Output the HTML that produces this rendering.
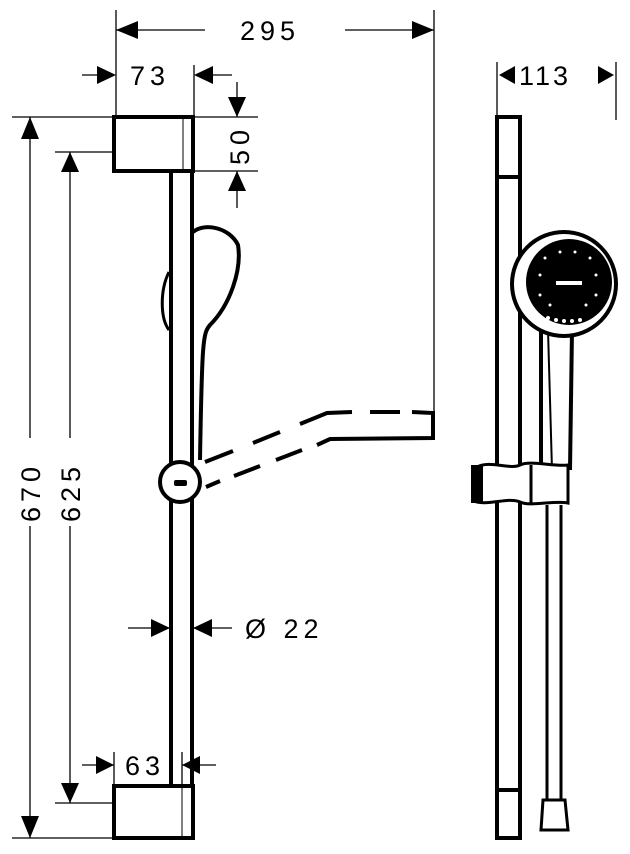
<!DOCTYPE html>
<html><head><style>
html,body{margin:0;padding:0;background:#fff;width:630px;height:854px;overflow:hidden}
svg{display:block}
text{font-family:"Liberation Sans",sans-serif;font-size:27px;fill:#000;letter-spacing:5px}
</style></head><body>
<svg width="630" height="854" viewBox="0 0 630 854" xmlns="http://www.w3.org/2000/svg">
<g stroke="#000" fill="none" stroke-width="1.3">
 <line x1="116" y1="10" x2="116" y2="117"/>
 <line x1="434" y1="10" x2="434" y2="412"/>
 <line x1="116" y1="30" x2="205" y2="30"/>
 <line x1="345" y1="30" x2="434" y2="30"/>
 <line x1="194" y1="65" x2="194" y2="117"/>
 <line x1="82" y1="75" x2="114" y2="75"/>
 <line x1="196" y1="75" x2="232" y2="75"/>
 <line x1="193" y1="117" x2="258" y2="117"/>
 <line x1="193" y1="171" x2="258" y2="171"/>
 <line x1="237" y1="82" x2="237" y2="117"/>
 <line x1="237" y1="171" x2="237" y2="208"/>
 <line x1="12" y1="117" x2="114" y2="117"/>
 <line x1="12" y1="838" x2="114" y2="838"/>
 <line x1="30" y1="117" x2="30" y2="838"/>
 <line x1="55" y1="152" x2="114" y2="152"/>
 <line x1="55" y1="803" x2="114" y2="803"/>
 <line x1="70" y1="152" x2="70" y2="803"/>
 <line x1="128" y1="628" x2="170" y2="628"/>
 <line x1="193" y1="628" x2="232" y2="628"/>
 <line x1="114" y1="752" x2="114" y2="786"/>
 <line x1="182" y1="752" x2="182" y2="786"/>
 <line x1="82" y1="765" x2="114" y2="765"/>
 <line x1="182" y1="765" x2="216" y2="765"/>
 <line x1="497" y1="62" x2="497" y2="117"/>
 <line x1="616" y1="62" x2="616" y2="120"/>
</g>
<g fill="#000">
 <polygon points="116,30 138,21 138,39"/>
 <polygon points="434,30 412,21 412,39"/>
 <polygon points="116,75 97,66 97,84"/>
 <polygon points="194,75 213,66 213,84"/>
 <polygon points="237,117 228,97 246,97"/>
 <polygon points="237,171 228,191 246,191"/>
 <polygon points="30,117 21,139 39,139"/>
 <polygon points="30,838 21,816 39,816"/>
 <polygon points="70,152 61,172 79,172"/>
 <polygon points="70,803 61,783 79,783"/>
 <polygon points="170,628 151,619 151,637"/>
 <polygon points="193,628 212,619 212,637"/>
 <polygon points="114,765 96,756 96,774"/>
 <polygon points="182,765 200,756 200,774"/>
 <polygon points="499,75 515,66 515,84"/>
 <polygon points="614,75 598,66 598,84"/>
</g>
<text x="240" y="40">295</text>
<text x="130" y="85">73</text>
<text x="125" y="775">63</text>
<text x="519" y="85" style="letter-spacing:3px">113</text>
<text x="245" y="638">Ø 22</text>
<text transform="translate(249,165) rotate(-90)">50</text>
<g transform="translate(40,522) rotate(-90)"><rect x="-4" y="-25" width="88" height="32" fill="#fff"/><text x="0" y="0">670</text></g>
<g transform="translate(80,522) rotate(-90)"><rect x="-4" y="-25" width="88" height="32" fill="#fff"/><text x="0" y="0">625</text></g>

<g stroke="#000" fill="none" stroke-width="4">
 <rect x="114" y="117" width="79" height="54" fill="#fff"/>
 <line x1="171" y1="171" x2="171" y2="786"/>
 <line x1="192" y1="171" x2="192" y2="786"/>
 <rect x="114" y="786" width="79" height="52" fill="#fff"/>
 <path d="M193,232 C205,222 230,228 238,245 C242,270 230,305 210,325 C203,333 202,340 200,460"/>
 <path d="M169,272 C160,290 160,318 169,330" stroke-width="3"/>
 <circle cx="180" cy="482" r="20" fill="#fff"/>
 <path d="M205,462 L233,451 M253,443 L280,432 M300,424 L327,413 L352,412 M370,412 L400,412 M412,412 L433,413 L433,438 L330,439 L317,445 M302,450 L276,460 M260,466 L234,476 M220,481 L206,487"/>
</g>
<rect x="174" y="480" width="13" height="6" rx="2" fill="#000"/>
<line x1="183" y1="117" x2="183" y2="171" stroke="#000" stroke-width="1"/>
<line x1="182" y1="786" x2="182" y2="838" stroke="#000" stroke-width="1"/>

<g stroke="#000" fill="none" stroke-width="4">
 <rect x="497" y="117" width="23" height="721" fill="#fff"/>
 <line x1="497" y1="177" x2="520" y2="177"/>
 <line x1="497" y1="790" x2="520" y2="790"/>
 <path d="M541,330 L541,470 M572,330 L570,470"/>
 <path d="M548,330 L552,470" stroke-width="2"/>
 <path d="M547,505 L547,800 M561,505 L561,800" stroke-width="3"/>
 <path d="M543,800 L565,800 L568,830 L541,830 Z" fill="#fff" stroke-width="3"/>
 <path d="M477,467 C490,460 510,470 520,465 C530,460 555,467 568,465 L568,503 C555,500 530,507 520,502 C510,497 490,505 477,502 Z" fill="#fff" stroke-width="3"/>
 <rect x="473" y="467" width="8" height="34" fill="#000"/>
 <line x1="531" y1="465" x2="531" y2="503" stroke-width="3"/>
 <circle cx="564" cy="284" r="52" fill="#fff"/>
</g>
<circle cx="569" cy="282" r="43" fill="#000"/>
<g fill="#fff">
 <rect x="556" y="281" width="26" height="4"/>
 <circle cx="545" cy="258" r="1.5"/><circle cx="560" cy="252" r="1.5"/><circle cx="575" cy="252" r="1.5"/><circle cx="590" cy="258" r="1.5"/>
 <circle cx="540" cy="275" r="1.5"/><circle cx="596" cy="275" r="1.5"/><circle cx="540" cy="295" r="1.5"/><circle cx="596" cy="295" r="1.5"/>
 <circle cx="550" cy="305" r="1.5"/><circle cx="586" cy="305" r="1.5"/>
 <circle cx="548" cy="318" r="2"/><circle cx="556" cy="320" r="2"/><circle cx="564" cy="321" r="2"/><circle cx="572" cy="321" r="2"/><circle cx="580" cy="320" r="2"/>
</g>
</svg>
</body></html>
